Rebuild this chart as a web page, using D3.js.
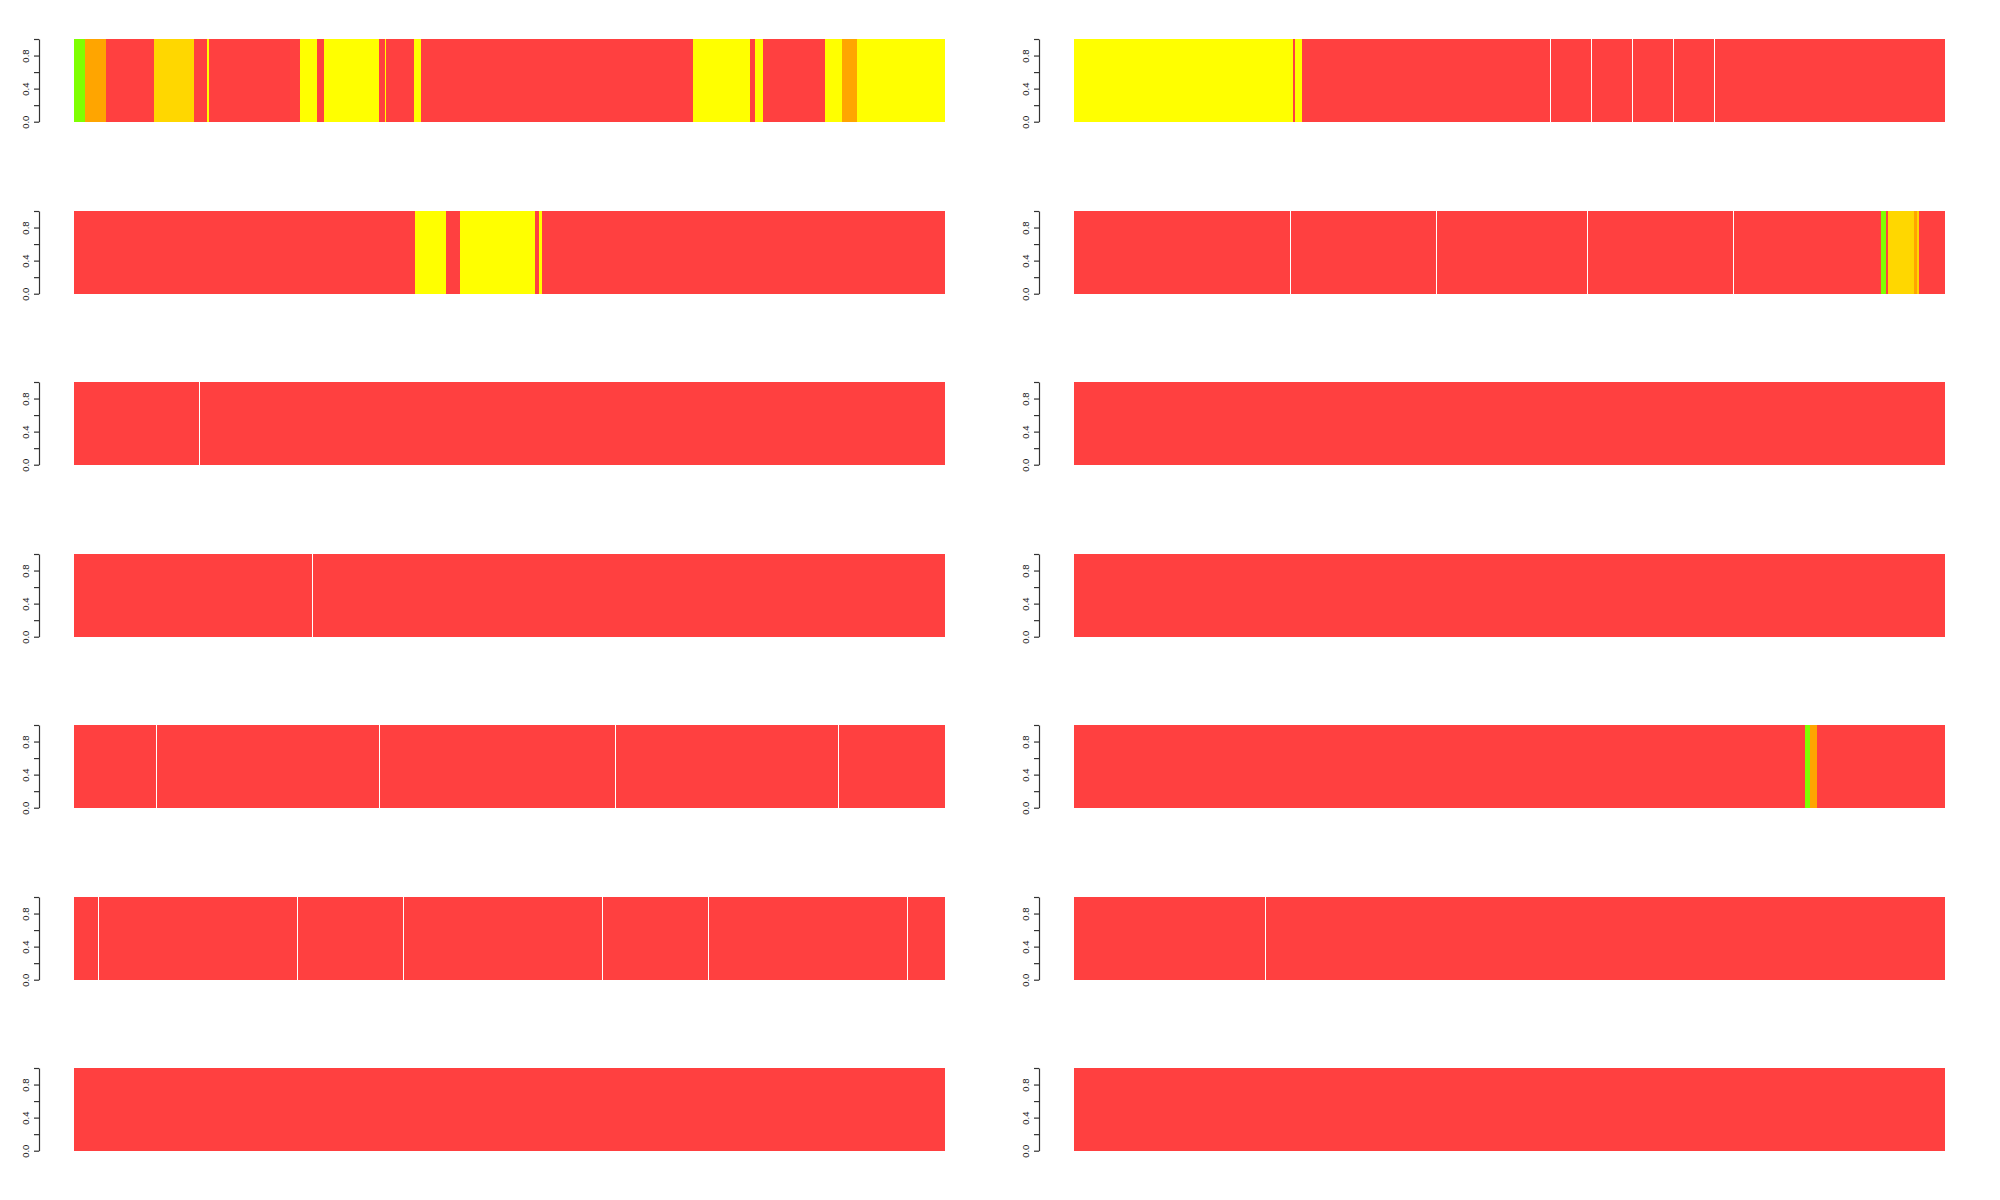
<!DOCTYPE html>
<html>
<head>
<meta charset="utf-8">
<script src="https://cdn.jsdelivr.net/npm/d3@7"></script>
<style>
  html, body { margin: 0; padding: 0; background: #fff; }
  svg { display: block; }
</style>
</head>
<body>
<svg id="chart" width="2000" height="1200"></svg>
<script>
// Colour codes used by the segments
const colorCodes = ["G", "O", "R", "D", "Y"];
const colorValues = ["#7FFF00", "#FFA500", "#FF4040", "#FFD700", "#FFFF00"];

// y-axis ticks
const yTicks = [0, 0.2, 0.4, 0.6, 0.8, 1.0];
const yTickLabels = ["0.0", "", "0.4", "", "0.8", ""];

// Each panel: list of bars (groups); each bar: list of [colour code, length]
const panel1Left = [[["G",11],["O",21],["R",48],["D",40],["R",13],["Y",2],["R",91],["Y",17],["R",7],["Y",55],["R",6],["Y",1],["R",28],["Y",7],["R",272],["Y",57],["R",5],["Y",8],["R",62],["Y",17],["O",15],["Y",88]]];
const panel1Right = [[["Y",219],["R",2],["Y",7],["R",248]],[["R",41]],[["R",41]],[["R",41]],[["R",41]],[["R",231]]];
const panel2Left = [[["R",341],["Y",31],["R",14],["Y",75],["R",4],["Y",3],["R",403]]];
const panel2Right = [[["R",216]],[["R",146]],[["R",151]],[["R",146]],[["R",148],["G",5],["R",2],["D",26],["O",3],["D",2],["R",26]]];
const panel3Left = [[["R",125]],[["R",746]]];
const panel3Right = [[["R",871]]];
const panel4Left = [[["R",238]],[["R",633]]];
const panel4Right = [[["R",871]]];
const panel5Left = [[["R",82]],[["R",223]],[["R",236]],[["R",223]],[["R",107]]];
const panel5Right = [[["R",731],["G",5],["O",7],["R",128]]];
const panel6Left = [[["R",24]],[["R",199]],[["R",106]],[["R",199]],[["R",106]],[["R",199]],[["R",38]]];
const panel6Right = [[["R",191]],[["R",680]]];
const panel7Left = [[["R",871]]];
const panel7Right = [[["R",871]]];

const panels = [panel1Left, panel1Right, panel2Left, panel2Right, panel3Left, panel3Right,
                panel4Left, panel4Right, panel5Left, panel5Right, panel6Left, panel6Right,
                panel7Left, panel7Right];

const color = d3.scaleOrdinal().domain(colorCodes).range(colorValues);

const svg = d3.select("#chart");
const colX = [74, 1074];
const barW = 871;
const rowTop0 = 39, rowStep = 171.5, barH = 82.7;

panels.forEach((bars, i) => {
  const row = Math.floor(i / 2), col = i % 2;
  const x0 = colX[col];
  const top = Math.round(rowTop0 + row * rowStep);
  const total = d3.sum(bars, b => d3.sum(b, s => s[1]));
  const x = d3.scaleLinear().domain([0, total]).range([x0, x0 + barW]);
  const y = d3.scaleLinear().domain([0, 1]).range([top + barH, top]);

  // flatten into segments with offsets
  const segs = [];
  const barStarts = [];
  let acc = 0;
  bars.forEach((b, bi) => {
    if (bi > 0) barStarts.push(acc);
    b.forEach(s => { segs.push({c: s[0], start: acc, len: s[1]}); acc += s[1]; });
  });

  const g = svg.append("g");
  g.selectAll("rect.seg").data(segs).join("rect")
    .attr("class", "seg")
    .attr("x", d => Math.round(x(d.start)))
    .attr("width", d => Math.round(x(d.start + d.len)) - Math.round(x(d.start)))
    .attr("y", y(1))
    .attr("height", y(0) - y(1))
    .attr("fill", d => color(d.c))
    .attr("shape-rendering", "crispEdges");

  g.selectAll("line.sep").data(barStarts).join("line")
    .attr("class", "sep")
    .attr("x1", d => Math.round(x(d)) + 0.5).attr("x2", d => Math.round(x(d)) + 0.5)
    .attr("y1", y(1)).attr("y2", y(0))
    .attr("stroke", "#fff").attr("stroke-width", 1)
    .attr("shape-rendering", "crispEdges");

  const axis = d3.axisLeft(y)
    .tickValues(yTicks)
    .tickSize(5)
    .tickSizeOuter(0)
    .tickFormat((d, k) => yTickLabels[k]);
  const ag = svg.append("g")
    .attr("transform", `translate(${x0 - 35},0)`)
    .call(axis);
  ag.select(".domain").attr("stroke", "#333").attr("stroke-width", 1.2);
  ag.selectAll(".tick line").attr("stroke", "#333").attr("stroke-width", 1.2);
  ag.selectAll(".tick text")
    .attr("x", null).attr("dy", null)
    .attr("transform", "translate(-13,0) rotate(-90)")
    .attr("text-anchor", "middle")
    .attr("dy", "0.35em")
    .attr("font-family", "Liberation Sans, Arial, sans-serif")
    .attr("font-size", 9.5)
    .attr("fill", "#222");
});
</script>
</body>
</html>
